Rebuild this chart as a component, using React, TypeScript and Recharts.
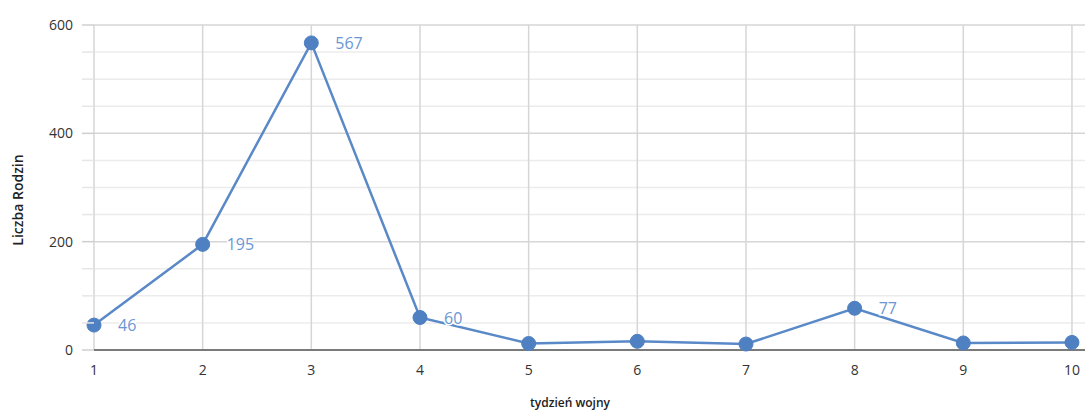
import React from "react";
import { LineChart, Line, XAxis, YAxis, CartesianGrid, LabelList } from "recharts";

// tygodnie wojny i liczba rodzin
const weeks = [1, 2, 3, 4, 5, 6, 7, 8, 9, 10];
const families = [46, 195, 567, 60, 12, 16, 11, 77, 13, 14];
const labelled = [true, true, true, true, false, false, false, true, false, false];

const majorTicks = [0, 200, 400, 600];
const minorTicks = [50, 100, 150, 250, 300, 350, 450, 500, 550];
const allTicks = [0, 50, 100, 150, 200, 250, 300, 350, 400, 450, 500, 550, 600];

const FONT = "'Open Sans', 'Noto Sans', sans-serif";
const LINE = "#5a89c8";
const DOT = "#4e80c2";
const LABEL = "#6a96d4";

const data = weeks.map((w, i) => ({ week: w, value: families[i] }));

function YTick(props: any) {
  const { x, y, payload } = props;
  const v = payload.value as number;
  const major = majorTicks.includes(v);
  return (
    <g>
      <line x1={x + 9} x2={x + 21} y1={y} y2={y} stroke={major ? "#cfcfcf" : "#e6e6e6"} strokeWidth={1.5} />
      {major && (
        <text x={x} y={y} dy={5} textAnchor="end" fontSize={14} fill="#333" fontFamily={FONT}>
          {v}
        </text>
      )}
    </g>
  );
}

function ValueLabel(props: any) {
  const { x, y, value, index } = props;
  if (!labelled[index]) return null;
  return (
    <text
      x={x + 24}
      y={y}
      dy={6}
      fontSize={16}
      fill={LABEL}
      fontFamily={FONT}
      stroke="#fff"
      strokeWidth={3}
      paintOrder="stroke"
    >
      {value}
    </text>
  );
}

function YLabel() {
  const cy = 200;
  return (
    <text
      x={23}
      y={cy}
      transform={`rotate(-90 23 ${cy})`}
      textAnchor="middle"
      fontSize={14}
      fontWeight={600}
      fill="#222"
      fontFamily={FONT}
    >
      Liczba Rodzin
    </text>
  );
}

function XLabel() {
  return (
    <text x={570} y={407} textAnchor="middle" fontSize={12} fontWeight={600} fill="#222" fontFamily={FONT}>
      tydzień wojny
    </text>
  );
}

export default function App() {
  return (
    <div style={{ position: "absolute", left: 0, top: 0, background: "#fff" }}>
      <LineChart width={1085} height={412} data={data} margin={{ top: 25, right: 0, left: 0, bottom: 0 }}>
        <CartesianGrid horizontalValues={minorTicks} vertical={false} stroke="#ececec" strokeWidth={1.5} />
        <CartesianGrid horizontalValues={majorTicks} verticalValues={weeks} stroke="#d6d6d6" strokeWidth={1.5} />
        <XAxis
          dataKey="week"
          type="number"
          domain={[1, 10.12]}
          ticks={weeks}
          height={62}
          tickLine={false}
          tickMargin={9}
          axisLine={{ stroke: "#7a7a7a", strokeWidth: 2 }}
          tick={{ fontSize: 14, fill: "#333", fontFamily: FONT }}
          label={<XLabel />}
        />
        <YAxis
          type="number"
          domain={[0, 600]}
          ticks={allTicks}
          width={94}
          tickLine={false}
          axisLine={false}
          tickSize={12}
          tickMargin={9}
          tick={<YTick />}
          label={<YLabel />}
        />
        <Line
          type="linear"
          dataKey="value"
          stroke={LINE}
          strokeWidth={2.5}
          dot={{ r: 7, fill: DOT, stroke: DOT, strokeWidth: 1 }}
          activeDot={false}
          isAnimationActive={false}
        >
          <LabelList dataKey="value" content={<ValueLabel />} />
        </Line>
      </LineChart>
    </div>
  );
}
